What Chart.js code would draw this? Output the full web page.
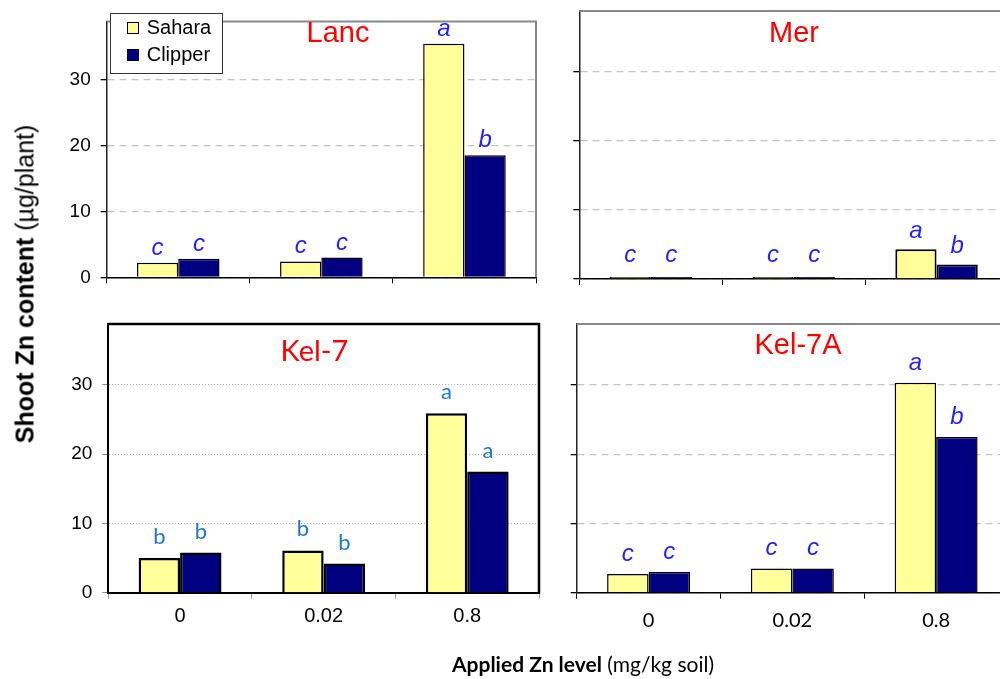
<!DOCTYPE html>
<html><head><meta charset="utf-8">
<script src="https://cdn.jsdelivr.net/npm/chart.js@4.4.1/dist/chart.umd.min.js"></script>
<style>
html,body{margin:0;padding:0;background:#fff;overflow:hidden;width:1000px;height:679px;position:relative}
canvas{position:absolute}
.t{position:absolute;white-space:nowrap;line-height:1}
.sw{position:absolute;width:10px;height:10px;border:1px solid #000}
</style></head><body>
<canvas id="c1" width="560" height="300" style="left:0;top:0"></canvas>
<canvas id="c2" width="460" height="300" style="left:560px;top:0"></canvas>
<canvas id="c3" width="560" height="379" style="left:0;top:300px"></canvas>
<canvas id="c4" width="460" height="379" style="left:560px;top:300px"></canvas>

<div class="t" style="left:338px;top:15.5px;transform:translateX(-50%);font:29px 'Liberation Sans',Arial,sans-serif;color:#ff0000">Lanc</div>
<div class="t" style="left:794px;top:15.5px;transform:translateX(-50%);font:29px 'Liberation Sans',Arial,sans-serif;color:#ff0000">Mer</div>
<div class="t" style="left:314.5px;top:332px;transform:translateX(-50%);font:29px Lato,sans-serif;color:#ff0000">Kel-7</div>
<div class="t" style="left:798px;top:328px;transform:translateX(-50%);font:29px 'Liberation Sans',Arial,sans-serif;color:#ff0000">Kel-7A</div>

<div class="t" style="left:25px;top:284px;transform:translate(-50%,-50%) rotate(-90deg);font:25px 'Liberation Sans',Arial,sans-serif;color:#000"><b>Shoot Zn content</b> (µg/plant)</div>
<div class="t" style="left:583px;top:651px;transform:translateX(-50%);font:21px Lato,sans-serif;color:#000"><b>Applied Zn level</b> (mg/kg soil)</div>

<div id="legend" style="position:absolute;left:110px;top:12.7px;width:111px;height:59px;border:1px solid #333;background:#fff"></div>

<script>
// ---- data ----
const categories = ['0', '0.02', '0.8'];
const seriesNames = ['Sahara', 'Clipper'];
const seriesColors = ['#FFFF99', '#000080'];
const yTicks = [0, 10, 20, 30];
const yMax = 38.8;

const lancSahara  = [2.2, 2.4, 35.4];
const lancClipper = [2.8, 3.0, 18.5];
const merSahara   = [0.3, 0.3, 4.3];
const merClipper  = [0.3, 0.3, 2.1];
const kel7Sahara  = [5.0, 6.1, 25.9];
const kel7Clipper = [5.8, 4.2, 17.5];
const kel7aSahara  = [2.7, 3.5, 30.3];
const kel7aClipper = [3.0, 3.5, 22.5];

const lancLetters  = [['c', 'c', 'a'], ['c', 'c', 'b']];
const merLetters   = [['c', 'c', 'a'], ['c', 'c', 'b']];
const kel7Letters  = [['b', 'b', 'a'], ['b', 'b', 'a']];
const kel7aLetters = [['c', 'c', 'a'], ['c', 'c', 'b']];

// ---- legend ----
const lg = document.getElementById('legend');
seriesNames.forEach((n, i) => {
  const sw = document.createElement('div');
  sw.className = 'sw';
  sw.style.left = '15.7px';
  sw.style.top = (8 + i * 27.6) + 'px';
  sw.style.background = seriesColors[i];
  lg.appendChild(sw);
  const tx = document.createElement('div');
  tx.className = 't';
  tx.style.left = '35.7px';
  tx.style.top = (2.7 + i * 26.7) + 'px';
  tx.style.font = "20px 'Liberation Sans',Arial,sans-serif";
  tx.textContent = n;
  lg.appendChild(tx);
});

// ---- plugins ----
function letterPlugin(letters, font, color, offset, minAbove) {
  return {
    id: 'letters',
    afterDatasetsDraw(chart) {
      const ctx = chart.ctx;
      ctx.save();
      ctx.font = font;
      ctx.fillStyle = color;
      ctx.textAlign = 'center';
      ctx.textBaseline = 'alphabetic';
      chart.data.datasets.forEach((ds, i) => {
        chart.getDatasetMeta(i).data.forEach((bar, j) => {
          const y = Math.min(bar.y - offset, bar.base - minAbove);
          ctx.fillText(letters[i][j], bar.x, y);
        });
      });
      ctx.restore();
    }
  };
}
function framePlugin(color, width, right) {
  return {
    id: 'frame',
    afterDraw(chart) {
      const ctx = chart.ctx, a = chart.chartArea;
      ctx.save();
      ctx.strokeStyle = color;
      ctx.lineWidth = width;
      ctx.beginPath();
      ctx.moveTo(a.left, a.top);
      ctx.lineTo(a.right + (right ? width / 2 : 0), a.top);
      if (right) {
        ctx.moveTo(a.right, a.top);
        ctx.lineTo(a.right, a.bottom);
      }
      ctx.stroke();
      ctx.restore();
    }
  };
}

// ---- charts ----
function makeChart(cfg) {
  const std = cfg.style === 'std';
  new Chart(document.getElementById(cfg.id), {
    type: 'bar',
    data: {
      labels: categories,
      datasets: [
        { label: seriesNames[0], data: cfg.sahara, backgroundColor: seriesColors[0], borderColor: '#000', borderWidth: cfg.bw, categoryPercentage: 0.577, barPercentage: 1.0 },
        { label: seriesNames[1], data: cfg.clipper, backgroundColor: seriesColors[1], borderColor: '#000', borderWidth: cfg.bw, categoryPercentage: 0.577, barPercentage: 1.0 }
      ]
    },
    options: {
      responsive: false,
      animation: false,
      devicePixelRatio: 1,
      layout: { padding: { top: cfg.padT, right: cfg.padR, left: 0, bottom: 0 } },
      plugins: { legend: { display: false }, tooltip: { enabled: false }, title: { display: false } },
      scales: {
        x: {
          grid: { display: true, drawOnChartArea: false, drawTicks: true, tickLength: 6, tickColor: std ? '#000' : '#999', offset: true },
          border: { display: true, color: '#000', width: std ? 1.5 : 2 },
          ticks: { display: cfg.showX, font: { family: cfg.xFont, size: 20 }, color: '#000', padding: cfg.xPad },
          afterFit(s) { s.height = cfg.xH; }
        },
        y: {
          min: 0, max: yMax,
          afterBuildTicks(s) { s.ticks = yTicks.map(v => ({ value: v })); },
          grid: { color: std ? '#c4c4c4' : '#b4b4b4', lineWidth: std ? 1.3 : 1, drawTicks: true, tickLength: 6, tickColor: std ? '#000' : '#888', tickBorderDash: [] },
          border: { display: true, color: std ? '#222' : '#000', width: std ? 1.5 : 2, dash: std ? [7, 5] : [1, 2] },
          ticks: { display: cfg.showY, font: { family: 'Liberation Sans', size: 19 }, color: '#000', padding: 10 },
          afterFit(s) { s.width = cfg.yW; }
        }
      }
    },
    plugins: [
      letterPlugin(cfg.letters, cfg.lFont, cfg.lColor, cfg.offset, cfg.minAbove),
      framePlugin(cfg.fColor, cfg.fWidth, cfg.fRight)
    ]
  });
}

makeChart({ id: 'c1', style: 'std', sahara: lancSahara, clipper: lancClipper, letters: lancLetters,
  yW: 106.7, xH: 22.7, padT: 11.7, padR: 24, showY: true, showX: false, xFont: 'Liberation Sans', xPad: 6, bw: 1.5,
  lFont: "italic 24px 'Liberation Sans'", lColor: '#1f1fff', offset: 8, minAbove: 0,
  fColor: '#888', fWidth: 2, fRight: true });
makeChart({ id: 'c2', style: 'std', sahara: merSahara, clipper: merClipper, letters: merLetters,
  yW: 19.3, xH: 21, padT: 11, padR: 12, showY: false, showX: false, xFont: 'Liberation Sans', xPad: 6, bw: 2,
  lFont: "italic 24px 'Liberation Sans'", lColor: '#1f1fff', offset: 11, minAbove: 16,
  fColor: '#888', fWidth: 2, fRight: false });
makeChart({ id: 'c3', style: 'box', sahara: kel7Sahara, clipper: kel7Clipper, letters: kel7Letters,
  yW: 108.3, xH: 86.3, padT: 24, padR: 21, showY: true, showX: true, xFont: 'Liberation Sans', xPad: 6, bw: 2.5,
  lFont: "22px Lato", lColor: '#1e78c8', offset: 14, minAbove: 0,
  fColor: '#000', fWidth: 2.5, fRight: true });
makeChart({ id: 'c4', style: 'std', sahara: kel7aSahara, clipper: kel7aClipper, letters: kel7aLetters,
  yW: 16.7, xH: 86.3, padT: 24, padR: 12, showY: false, showX: true, xFont: 'Lato', xPad: 10, bw: 1.5,
  lFont: "italic 24px 'Liberation Sans'", lColor: '#1f1fff', offset: 13, minAbove: 0,
  fColor: '#888', fWidth: 2, fRight: false });
</script>
</body></html>
